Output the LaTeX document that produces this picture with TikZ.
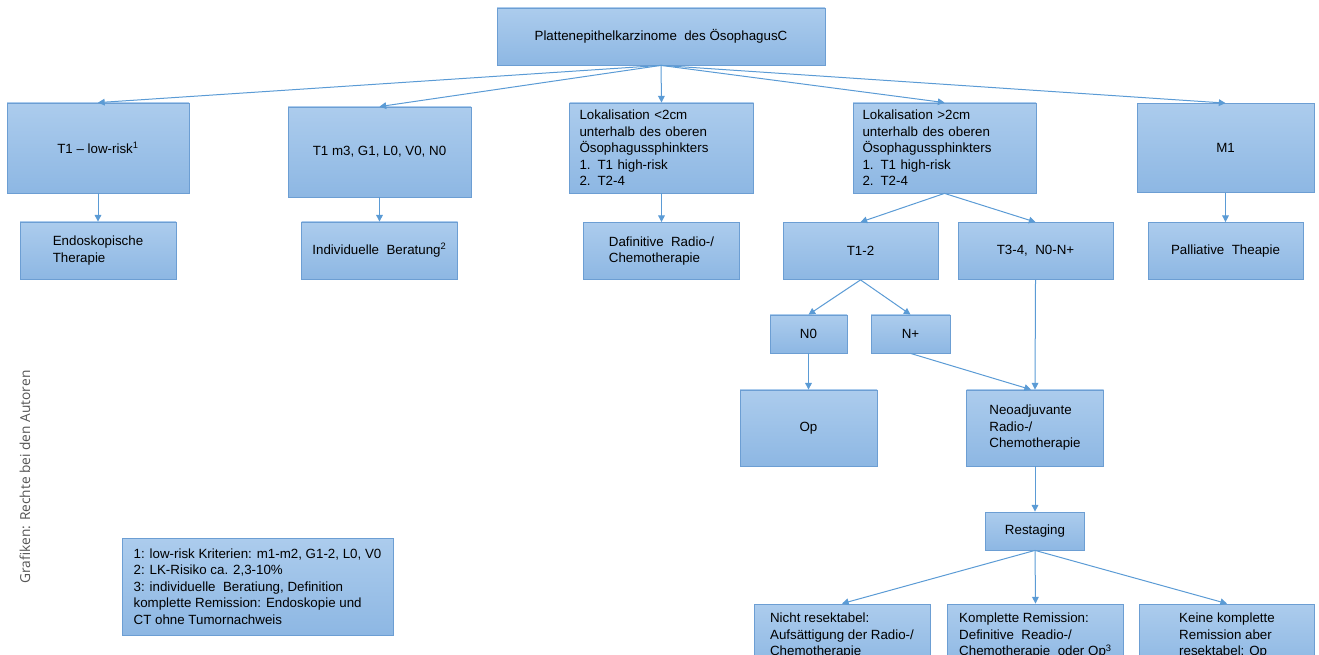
\documentclass[tikz,border=0pt]{standalone}
\usepackage{fontspec}
\setmainfont{Liberation Sans}
\newfontfamily\creditfont{Open Sans}
\usetikzlibrary{arrows.meta}

\definecolor{boxtop}{RGB}{172,204,237}
\definecolor{boxbot}{RGB}{141,183,227}
\definecolor{boxline}{RGB}{108,158,211}
\definecolor{arrowline}{RGB}{91,155,213}
\definecolor{credit}{RGB}{85,85,85}

\tikzset{
  flowbox/.style={draw=boxline, line width=0.6pt, top color=boxtop, bottom color=boxbot, inner sep=0.75pt, align=left, font=\fontsize{10}{12.4}\selectfont},
  boxsize/.style 2 args={minimum width=#1*0.75pt, minimum height=#2*0.75pt},
  flowarrow/.style={draw=arrowline, line width=0.75pt, -{Triangle[length=5pt,width=5pt]}}
}

\begin{document}
\begin{tikzpicture}[x=0.75pt,y=0.75pt,yscale=-1,xscale=1]
%set diagram to 1319 x 655
\useasboundingbox (0,0) rectangle (1319,655);
\clip (0,0) rectangle (1319,655);

%Shape: Rectangle [top]
\node [flowbox, boxsize={328}{57}] (top) at (661,36.5) {Plattenepithelkarzinome\ \ des ÖsophagusC};

%Shape: Rectangle [row 1]
\node [flowbox, boxsize={182}{90}] (lowrisk) at (98,148) {T1 -- low-risk\textsuperscript{1}};
\node [flowbox, boxsize={183}{90}] (mthree) at (379.5,152) {T1\ m3,\ G1,\ L0,\ V0,\ N0};
\node [flowbox, boxsize={184}{90}, text width=123pt] (lokless) at (661.5,148) {Lokalisation <2cm\\unterhalb des oberen\\Ösophagussphinkters\\\makebox[13.5pt][l]{1.}T1 high-risk\\\makebox[13.5pt][l]{2.}T2-4};
\node [flowbox, boxsize={183}{90}, text width=123pt] (lokmore) at (944.5,148) {Lokalisation >2cm\\unterhalb des oberen\\Ösophagussphinkters\\\makebox[13.5pt][l]{1.}T1 high-risk\\\makebox[13.5pt][l]{2.}T2-4};
\node [flowbox, boxsize={177}{89}] (mone) at (1225.5,148) {M1};

%Shape: Rectangle [row 2]
\node [flowbox, boxsize={156}{57}] (endo) at (98,250.5) {Endoskopische\\Therapie};
\node [flowbox, boxsize={156}{57}] (berat) at (379.5,250.5) {Individuelle\ \ Beratung\textsuperscript{2}};
\node [flowbox, boxsize={156}{57}] (definit) at (661.5,251) {Dafinitive\ \ Radio-/\\Chemotherapie};
\node [flowbox, boxsize={155}{57}] (tonetwo) at (860.5,251) {T1-2};
\node [flowbox, boxsize={155}{57}] (tthree) at (1035.5,251) {T3-4,\ \ N0-N+};
\node [flowbox, boxsize={155}{57}] (pall) at (1225.5,251) {Palliative\ \ Theapie};

%Shape: Rectangle [N0, N+]
\node [flowbox, boxsize={77}{38}] (nnull) at (808.5,334) {N0};
\node [flowbox, boxsize={79}{38}] (nplus) at (910.5,334) {N+};

%Shape: Rectangle [Op, Neoadjuvant]
\node [flowbox, boxsize={137}{76}] (op) at (808.5,428) {Op};
\node [flowbox, boxsize={137}{76}] (neo) at (1035,428) {Neoadjuvante\\Radio-/\\Chemotherapie};

%Shape: Rectangle [Restaging]
\node [flowbox, boxsize={99}{38}] (restag) at (1035,531) {Restaging};

%Shape: Rectangle [bottom row]
\node [flowbox, boxsize={176}{64}] (nicht) at (842,636) {Nicht resektabel:\\Aufsättigung der Radio-/\\Chemotherapie};
\node [flowbox, boxsize={176}{64}] (kompl) at (1035.5,636) {Komplette Remission:\\Definitive\ \ Readio-/\\Chemotherapie\ \ oder Op\textsuperscript{3}};
\node [flowbox, boxsize={175}{64}] (keine) at (1227,636) {Keine komplette\\Remission aber\\resektabel: Op};

%Shape: Rectangle [footnotes]
\node [flowbox, boxsize={271}{97}] (notes) at (257.5,586.5) {1: low-risk Kriterien: m1-m2, G1-2, L0, V0\\2: LK-Risiko ca. 2,3-10\%\\3: individuelle\ \ Beratiung, Definition\\komplette Remission: Endoskopie und\\CT ohne Tumornachweis};

% Text Node
\node [rotate=90, text=credit, inner sep=0.75pt, font=\creditfont\fontsize{10.3}{12}\selectfont] (credittext) at (25,477) {Grafiken: Rechte bei den Autoren};

%Straight Lines [from top]
\foreach \t in {lowrisk,mthree,lokless,lokmore,mone}
  \draw [flowarrow] (top.south) -- (\t.north);

%Straight Lines [row 1 to row 2]
\draw [flowarrow] (lowrisk.south) -- (endo.north);
\draw [flowarrow] (mthree.south) -- (berat.north);
\draw [flowarrow] (lokless.south) -- (definit.north);
\draw [flowarrow] (lokmore.south) -- (tonetwo.north);
\draw [flowarrow] (lokmore.south) -- (tthree.north);
\draw [flowarrow] (mone.south) -- (pall.north);

%Straight Lines [T1-2 branch]
\draw [flowarrow] (tonetwo.south) -- (nnull.north);
\draw [flowarrow] (tonetwo.south) -- (nplus.north);
\draw [flowarrow] (nnull.south) -- (op.north);
\draw [flowarrow] (nplus.south) -- ([xshift=-3pt]neo.north);
\draw [flowarrow] (tthree.south) -- (neo.north);
\draw [flowarrow] (neo.south) -- (restag.north);

%Straight Lines [from Restaging]
\foreach \t in {nicht,kompl,keine}
  \draw [flowarrow] (restag.south) -- (\t.north);

\end{tikzpicture}
\end{document}
